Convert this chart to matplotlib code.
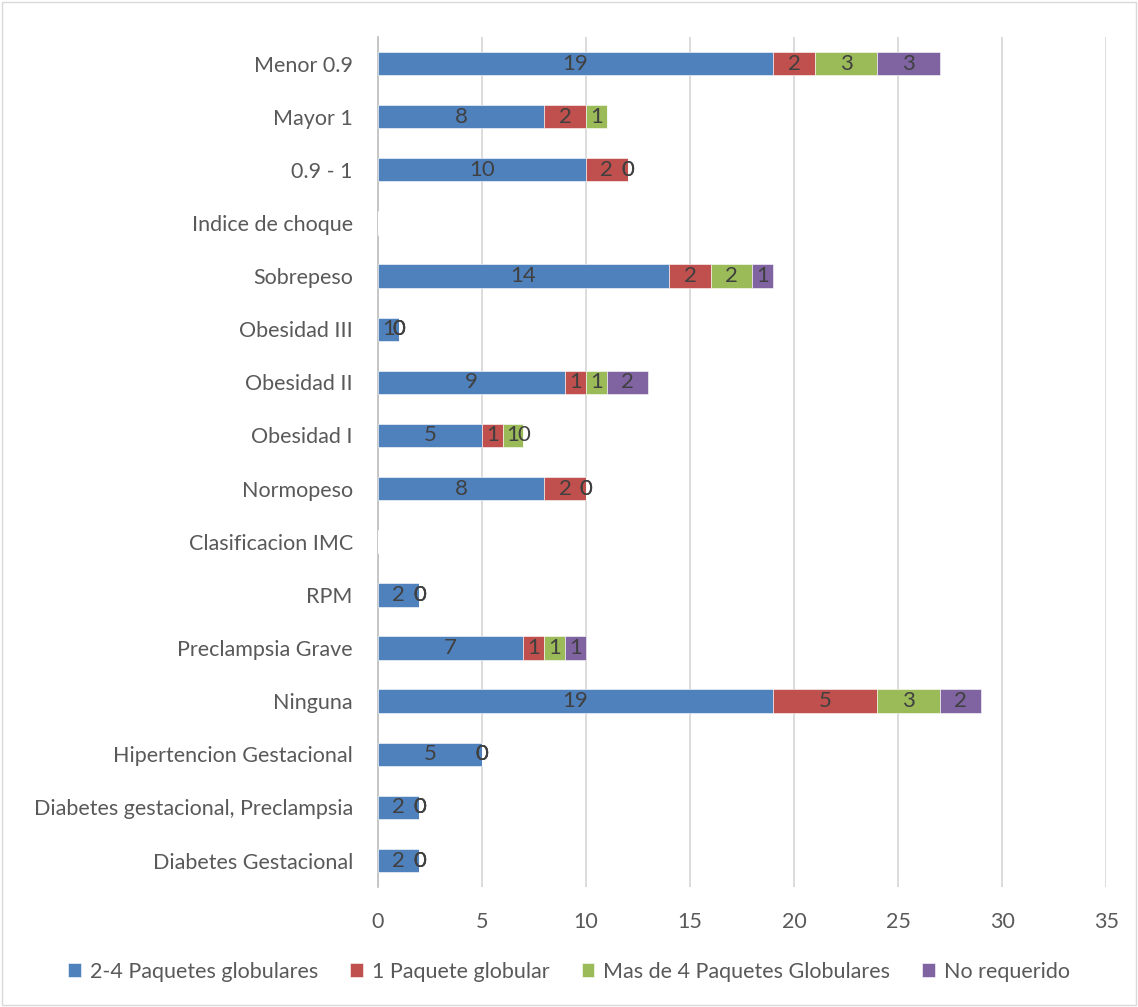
import matplotlib
matplotlib.use("Agg")
import matplotlib.pyplot as plt
import numpy as np
from matplotlib.patches import Rectangle

plt.rcParams['font.family'] = ['Lato', 'DejaVu Sans']

# categorias de abajo hacia arriba
categorias = [
    'Diabetes Gestacional',
    'Diabetes gestacional, Preclampsia',
    'Hipertencion Gestacional',
    'Ninguna',
    'Preclampsia Grave',
    'RPM',
    'Clasificacion IMC',
    'Normopeso',
    'Obesidad I',
    'Obesidad II',
    'Obesidad III',
    'Sobrepeso',
    'Indice de choque',
    '0.9 - 1',
    'Mayor 1',
    'Menor 0.9',
]
nan = np.nan
paquetes_2_4 = [2, 2, 5, 19, 7, 2, nan, 8, 5, 9, 1, 14, nan, 10, 8, 19]
paquete_1 = [0, 0, 0, 5, 1, 0, nan, 2, 1, 1, 0, 2, nan, 2, 2, 2]
mas_de_4 = [0, 0, 0, 3, 1, 0, nan, 0, 1, 1, 0, 2, nan, 0, 1, 3]
no_requerido = [0, 0, 0, 2, 1, 0, nan, 0, 0, 2, 0, 1, nan, 0, nan, 3]

series = [
    ('2-4 Paquetes globulares', paquetes_2_4, '#4F81BD'),
    ('1 Paquete globular', paquete_1, '#C0504D'),
    ('Mas de 4 Paquetes Globulares', mas_de_4, '#9BBB59'),
    ('No requerido', no_requerido, '#8064A2'),
]

fig = plt.figure(figsize=(11.38, 10.07), dpi=100)
ax = fig.add_axes([0.332, 0.119, 0.640, 0.8443])

y = np.arange(len(categorias))
left = np.zeros(len(categorias))
for nombre, valores, color in series:
    v = np.array(valores, dtype=float)
    w = np.nan_to_num(v)
    ax.barh(y, w, left=left, height=0.44, color=color, label=nombre,
            edgecolor='white', linewidth=0.4, zorder=3)
    for i, val in enumerate(v):
        if np.isnan(val):
            continue
        ax.text(left[i] + val / 2, y[i], f'{int(val)}', ha='center', va='center',
                fontsize=16, color='#404040', zorder=4)
    left = left + w

ax.set_xlim(0, 35)
ax.set_ylim(-0.5, len(categorias) - 0.5)
ax.set_xticks(range(0, 36, 5))
ax.set_yticks(y)
ax.set_yticklabels(categorias)
ax.xaxis.grid(True, color='#D9D9D9', linewidth=1.3, zorder=0)
ax.set_axisbelow(True)
for s in ['top', 'right', 'bottom']:
    ax.spines[s].set_visible(False)
ax.spines['left'].set_color('#BFBFBF')
ax.spines['left'].set_linewidth(1.2)
ax.tick_params(axis='both', length=0, labelsize=15.5, labelcolor='#595959')
ax.tick_params(axis='x', pad=18)
ax.tick_params(axis='y', pad=18)

fig.legend(loc='center', bbox_to_anchor=(0.5, 0.035), ncol=4, frameon=False,
           fontsize=15.5, handlelength=0.6, handleheight=0.6, handletextpad=0.4,
           columnspacing=1.5, labelcolor='#595959')

fig.patches.append(Rectangle((0.002, 0.002), 0.996, 0.996, transform=fig.transFigure,
                             fill=False, edgecolor='#D9D9D9', linewidth=1))

fig.savefig('out.png', dpi=100)
